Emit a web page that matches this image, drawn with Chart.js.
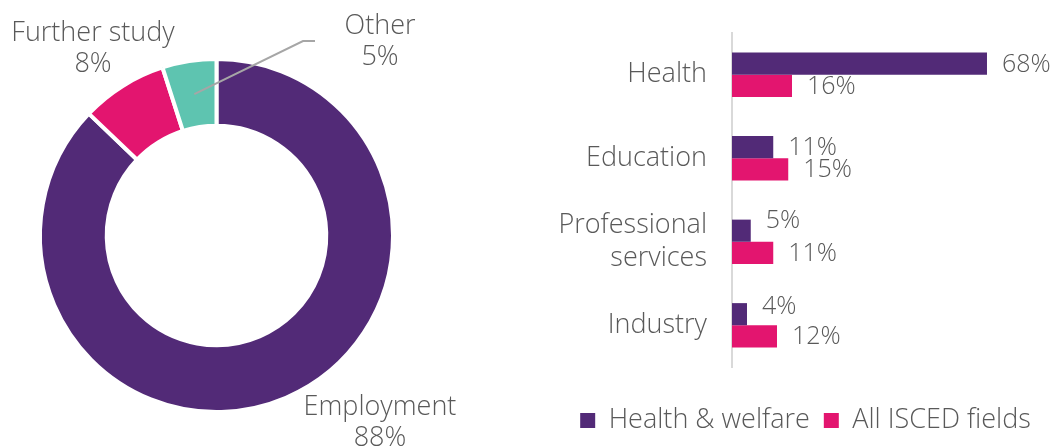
<!DOCTYPE html>
<html>
<head>
<meta charset="utf-8">
<script src="https://cdn.jsdelivr.net/npm/chart.js@4.4.1/dist/chart.umd.min.js"></script>
<style>
  html, body { margin: 0; padding: 0; background: #ffffff; }
  #wrap { position: relative; width: 1057px; height: 446px; overflow: hidden; }
  #pie { position: absolute; left: 0; top: 0; }
  #bars { position: absolute; left: 554px; top: 0; }
</style>
</head>
<body>
<div id="wrap">
  <canvas id="pie" width="540" height="446"></canvas>
  <canvas id="bars" width="503" height="446"></canvas>
</div>
<script>
// Destinations of graduates (doughnut)
const outcomeLabels = ['Employment', 'Further study', 'Other'];
const outcomeShares = [88, 8, 5];

// Sector of employment (grouped horizontal bars)
const sectorLabels = ['Health', 'Education', ['Professional', 'services'], 'Industry'];
const healthWelfare = [68, 11, 5, 4];
const allFields = [16, 15, 11, 12];
const seriesNames = ['Health & welfare', 'All ISCED fields'];

const PURPLE = '#522A77';
const PINK = '#E3156F';
const TEAL = '#5EC4B0';
const TEXT = '#595959';
const FONT = "'Open Sans', sans-serif";

Chart.defaults.font.family = FONT;
Chart.defaults.font.weight = 300;
Chart.defaults.color = TEXT;

// Doughnut labels: name on the first line, share below it.
const pieLabelSpots = [
  { x: 380, y: 407 },
  { x: 93,  y: 33 },
  { x: 380, y: 26 }
];
const pieLeader = { slice: 2, elbow: { x: 303, y: 41 }, end: { x: 315, y: 41 } };

const pieLabels = {
  id: 'pieLabels',
  afterDatasetsDraw(chart) {
    const ctx = chart.ctx;
    const arcs = chart.getDatasetMeta(0).data;
    ctx.save();
    // leader line for the narrow slice
    const a = arcs[pieLeader.slice].getCenterPoint();
    ctx.strokeStyle = '#A6A6A6';
    ctx.lineWidth = 2;
    ctx.beginPath();
    ctx.moveTo(a.x, a.y);
    ctx.lineTo(pieLeader.elbow.x, pieLeader.elbow.y);
    ctx.lineTo(pieLeader.end.x, pieLeader.end.y);
    ctx.stroke();

    ctx.fillStyle = TEXT;
    ctx.font = '300 27px ' + FONT;
    ctx.textAlign = 'center';
    ctx.textBaseline = 'middle';
    chart.data.labels.forEach((name, i) => {
      const p = pieLabelSpots[i];
      ctx.fillText(name, p.x, p.y);
      ctx.fillText(chart.data.datasets[0].data[i] + '%', p.x, p.y + 31);
    });
    ctx.restore();
  }
};

new Chart(document.getElementById('pie'), {
  type: 'doughnut',
  data: {
    labels: outcomeLabels,
    datasets: [{
      data: outcomeShares,
      backgroundColor: [PURPLE, PINK, TEAL],
      borderColor: '#ffffff',
      borderWidth: 4
    }]
  },
  options: {
    responsive: false,
    animation: false,
    events: [],
    cutout: '62.2%',
    layout: { padding: { left: 38, right: 145, top: 57, bottom: 32 } },
    plugins: { legend: { display: false }, tooltip: { enabled: false } }
  },
  plugins: [pieLabels]
});

// Value labels to the right of each bar; short purple labels are lifted
// so they clear the pink label underneath.
const valueLabelLift = [[0, 0, -11, -8], [0, 0, 0, 0]];

const barValueLabels = {
  id: 'barValueLabels',
  afterDatasetsDraw(chart) {
    const ctx = chart.ctx;
    ctx.save();
    ctx.font = '300 25px ' + FONT;
    ctx.fillStyle = TEXT;
    ctx.textAlign = 'left';
    ctx.textBaseline = 'middle';
    chart.data.datasets.forEach((ds, i) => {
      chart.getDatasetMeta(i).data.forEach((bar, j) => {
        ctx.fillText(ds.data[j] + '%', bar.x + 15, bar.y + 1 + valueLabelLift[i][j]);
      });
    });
    ctx.restore();
  }
};

new Chart(document.getElementById('bars'), {
  type: 'bar',
  data: {
    labels: sectorLabels,
    datasets: [
      { label: seriesNames[0], data: healthWelfare, backgroundColor: PURPLE,
        categoryPercentage: 0.53, barPercentage: 1.0 },
      { label: seriesNames[1], data: allFields, backgroundColor: PINK,
        categoryPercentage: 0.53, barPercentage: 1.0 }
    ]
  },
  options: {
    indexAxis: 'y',
    responsive: false,
    animation: false,
    events: [],
    layout: { padding: { top: 33, right: 0, bottom: 2, left: 0 } },
    scales: {
      x: {
        min: 0, max: 86.67,
        grid: { display: false, drawTicks: false },
        border: { display: false },
        ticks: { display: false },
        afterFit(s) { s.height = 26; }
      },
      y: {
        grid: { display: false, drawTicks: false },
        border: { display: true, color: '#D9D9D9', width: 2 },
        ticks: { padding: 25, font: { size: 27, weight: 300 }, color: TEXT },
        afterFit(s) { s.width = 178; s.paddingTop = 0; s.paddingBottom = 0; }
      }
    },
    plugins: {
      legend: {
        position: 'bottom',
        labels: { boxWidth: 15, boxHeight: 15, padding: 14, font: { size: 27, weight: 300 }, color: TEXT }
      },
      tooltip: { enabled: false }
    }
  },
  plugins: [barValueLabels]
});
</script>
</body>
</html>
